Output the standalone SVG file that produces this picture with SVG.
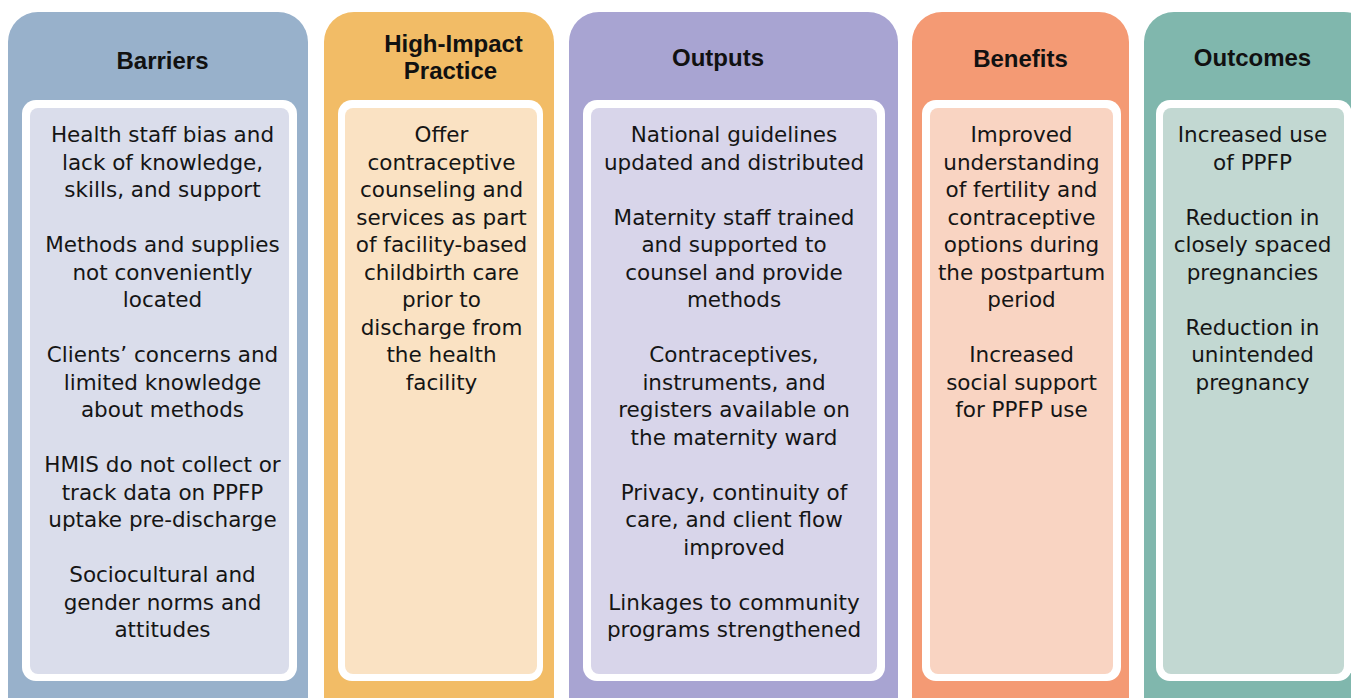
<svg xmlns="http://www.w3.org/2000/svg" width="1351" height="698" viewBox="0 0 1351 698">
<style>
.title{font-family:"Liberation Sans",Arial,sans-serif;font-weight:bold;font-size:24px;fill:#111;text-anchor:middle}
.body{font-family:"DejaVu Sans",sans-serif;font-size:21.5px;fill:#151515;text-anchor:middle}
.frame{fill:#ffffff}
</style>
<rect width="1351" height="698" fill="#ffffff"/>
<g id="barriers">
<rect x="8" y="12" width="300" height="720" rx="30" fill="#98B1CB"/>
<rect class="frame" x="22" y="100" width="275" height="581" rx="14"/>
<rect x="30" y="108" width="259" height="566" rx="8" fill="#DADDEB"/>
<text class="title" x="162.5" y="69">Barriers</text>
<text class="body" x="162.5" y="142">Health staff bias and</text>
<text class="body" x="162.5" y="169.5">lack of knowledge,</text>
<text class="body" x="162.5" y="197">skills, and support</text>
<text class="body" x="162.5" y="252">Methods and supplies</text>
<text class="body" x="162.5" y="279.5">not conveniently</text>
<text class="body" x="162.5" y="307">located</text>
<text class="body" x="162.5" y="362">Clients’ concerns and</text>
<text class="body" x="162.5" y="389.5">limited knowledge</text>
<text class="body" x="162.5" y="417">about methods</text>
<text class="body" x="162.5" y="472">HMIS do not collect or</text>
<text class="body" x="162.5" y="499.5">track data on PPFP</text>
<text class="body" x="162.5" y="527">uptake pre-discharge</text>
<text class="body" x="162.5" y="582">Sociocultural and</text>
<text class="body" x="162.5" y="609.5">gender norms and</text>
<text class="body" x="162.5" y="637">attitudes</text>
</g>
<g id="high-impact-practice">
<rect x="324" y="12" width="230" height="720" rx="30" fill="#F2BC66"/>
<rect class="frame" x="338" y="100" width="205" height="581" rx="14"/>
<rect x="345" y="108" width="192" height="566" rx="8" fill="#FAE2C3"/>
<text class="title" x="453.5" y="52">High-Impact</text>
<text class="title" x="450.5" y="79">Practice</text>
<text class="body" x="441.5" y="142">Offer</text>
<text class="body" x="441.5" y="169.5">contraceptive</text>
<text class="body" x="441.5" y="197">counseling and</text>
<text class="body" x="441.5" y="224.5">services as part</text>
<text class="body" x="441.5" y="252">of facility-based</text>
<text class="body" x="441.5" y="279.5">childbirth care</text>
<text class="body" x="441.5" y="307">prior to</text>
<text class="body" x="441.5" y="334.5">discharge from</text>
<text class="body" x="441.5" y="362">the health</text>
<text class="body" x="441.5" y="389.5">facility</text>
</g>
<g id="outputs">
<rect x="569" y="12" width="329" height="720" rx="30" fill="#A8A4D2"/>
<rect class="frame" x="583" y="100" width="302" height="581" rx="14"/>
<rect x="591" y="108" width="286" height="566" rx="8" fill="#D8D5EA"/>
<text class="title" x="718" y="66">Outputs</text>
<text class="body" x="734" y="142">National guidelines</text>
<text class="body" x="734" y="169.5">updated and distributed</text>
<text class="body" x="734" y="224.5">Maternity staff trained</text>
<text class="body" x="734" y="252">and supported to</text>
<text class="body" x="734" y="279.5">counsel and provide</text>
<text class="body" x="734" y="307">methods</text>
<text class="body" x="734" y="362">Contraceptives,</text>
<text class="body" x="734" y="389.5">instruments, and</text>
<text class="body" x="734" y="417">registers available on</text>
<text class="body" x="734" y="444.5">the maternity ward</text>
<text class="body" x="734" y="499.5">Privacy, continuity of</text>
<text class="body" x="734" y="527">care, and client flow</text>
<text class="body" x="734" y="554.5">improved</text>
<text class="body" x="734" y="609.5">Linkages to community</text>
<text class="body" x="734" y="637">programs strengthened</text>
</g>
<g id="benefits">
<rect x="912" y="12" width="217" height="720" rx="30" fill="#F49A74"/>
<rect class="frame" x="922" y="100" width="199" height="581" rx="14"/>
<rect x="930" y="108" width="183" height="566" rx="8" fill="#F9D4C2"/>
<text class="title" x="1020.5" y="67">Benefits</text>
<text class="body" x="1021.5" y="142">Improved</text>
<text class="body" x="1021.5" y="169.5">understanding</text>
<text class="body" x="1021.5" y="197">of fertility and</text>
<text class="body" x="1021.5" y="224.5">contraceptive</text>
<text class="body" x="1021.5" y="252">options during</text>
<text class="body" x="1021.5" y="279.5">the postpartum</text>
<text class="body" x="1021.5" y="307">period</text>
<text class="body" x="1021.5" y="362">Increased</text>
<text class="body" x="1021.5" y="389.5">social support</text>
<text class="body" x="1021.5" y="417">for PPFP use</text>
</g>
<g id="outcomes">
<rect x="1144" y="12" width="230" height="720" rx="30" fill="#80B7AD"/>
<rect class="frame" x="1156" y="100" width="196" height="581" rx="14"/>
<rect x="1163" y="108" width="181" height="566" rx="8" fill="#C2D8D2"/>
<text class="title" x="1252.5" y="66">Outcomes</text>
<text class="body" x="1252.5" y="142">Increased use</text>
<text class="body" x="1252.5" y="169.5">of PPFP</text>
<text class="body" x="1252.5" y="224.5">Reduction in</text>
<text class="body" x="1252.5" y="252">closely spaced</text>
<text class="body" x="1252.5" y="279.5">pregnancies</text>
<text class="body" x="1252.5" y="334.5">Reduction in</text>
<text class="body" x="1252.5" y="362">unintended</text>
<text class="body" x="1252.5" y="389.5">pregnancy</text>
</g>
<g id="connectors"></g>
</svg>
